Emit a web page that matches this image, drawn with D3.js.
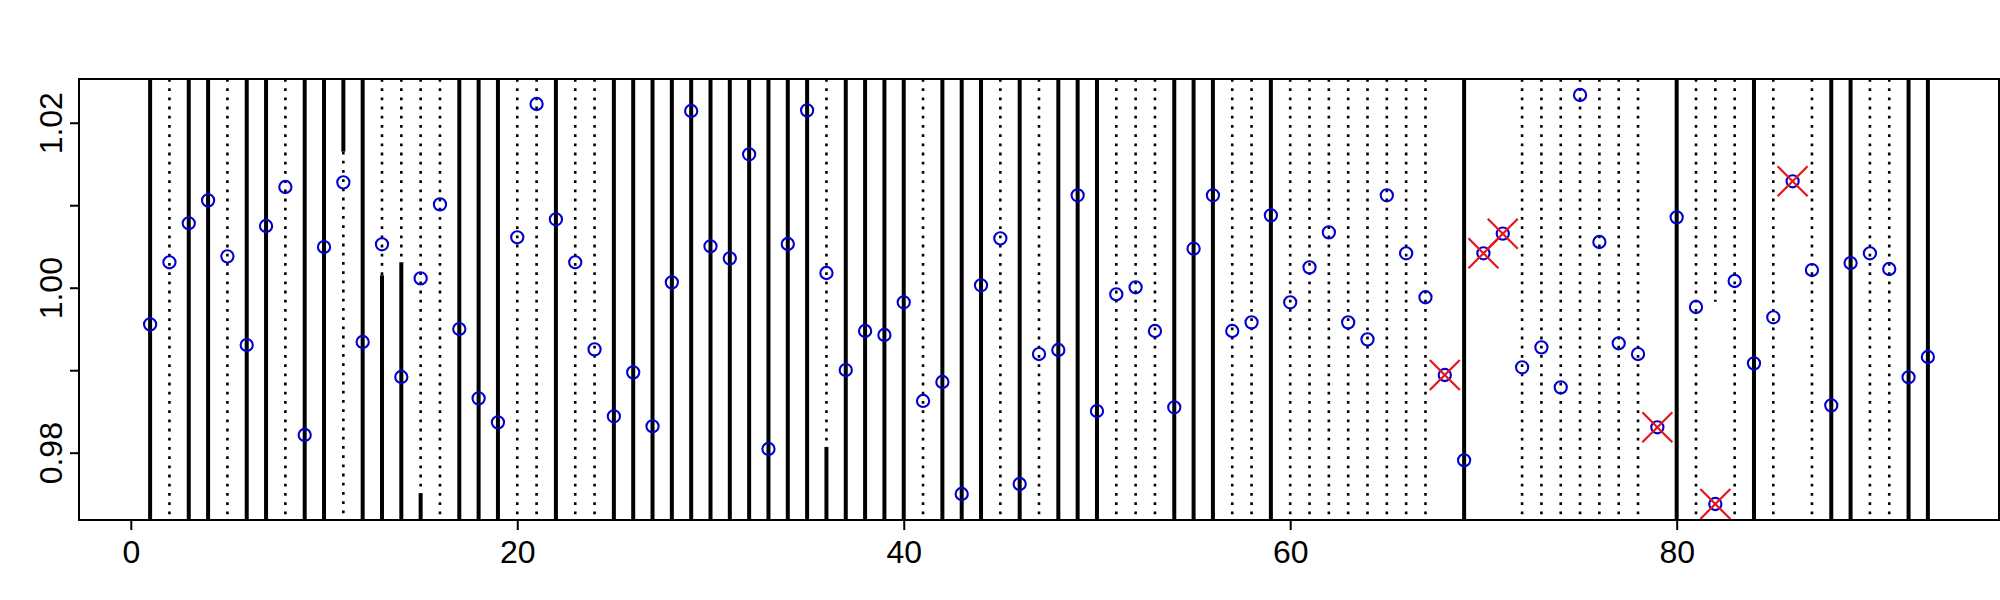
<!DOCTYPE html>
<html>
<head>
<meta charset="utf-8">
<script src="https://cdn.jsdelivr.net/npm/d3@7"></script>
<style>
  html, body { margin: 0; padding: 0; background: #fff; }
  svg { display: block; }
  text { font-family: "Liberation Sans", Arial, sans-serif; }
</style>
</head>
<body>
<svg id="chart" width="2000" height="600"></svg>
<script>
// ---- data ----
const values = [
  0.99556, 1.00308, 1.00781, 1.01059, 1.00380, 0.99305, 1.00748, 1.01221, 0.98215, 1.00493,
  1.01277, 0.99342, 1.00526, 0.98918, 1.00113, 1.01010, 0.99499, 0.98659, 0.98368, 1.00611,
  1.02227, 1.00829, 1.00308, 0.99253, 0.98441, 0.98974, 0.98320, 1.00065, 1.02142, 1.00502,
  1.00356, 1.01617, 0.98045, 1.00530, 1.02150, 1.00178, 0.99002, 0.99475, 0.99427, 0.99823,
  0.98627, 0.98857, 0.97499, 1.00029, 1.00598, 0.97621, 0.99196, 0.99245, 1.01120, 0.98505,
  0.99920, 1.00005, 0.99475, 0.98550, 1.00473, 1.01120, 0.99475, 0.99580, 1.00877, 0.99823,
  1.00247, 1.00671, 0.99580, 0.99374, 1.01120, 1.00417, 0.99884, 0.98942, 0.97908, 1.00417,
  1.00655, 0.99035, 0.99277, 0.98792, 1.02336, 1.00554, 0.99326, 0.99196, 0.98308, 1.00853,
  0.99766, 0.97378, 1.00081, 0.99083, 0.99641, 1.01290, 1.00214, 0.98574, 1.00299, 1.00417,
  1.00227, 0.98914, 0.99160
];
// line style per index (1..93): s = solid, d = dotted, n = none
const lineStyle = [
  "s","d","s","s","d","s","s","d","s","s",
  "s","s","d","d","d","d","s","s","s","d",
  "d","s","d","d","s","s","s","s","s","s",
  "s","s","s","s","s","d","s","s","s","s",
  "d","s","s","s","d","s","d","s","s","s",
  "d","d","d","s","s","s","d","d","s","d",
  "d","d","d","d","d","d","d","n","s","n",
  "n","d","d","d","d","d","d","d","n","s",
  "d","d","d","s","d","n","d","s","s","d",
  "d","s","s"
];
// lines that change style part way
const splitX      = [11, 13, 14, 15, 36, 82];
const splitAt     = [1.0165, 1.0015, 1.0031, 0.9751, 0.9807, 0.9983];
const splitTop    = ["s", "d", "d", "d", "d", "d"];
const splitBottom = ["d", "s", "s", "s", "s", "n"];
// flagged points (red crosses)
const flagged = [68, 70, 71, 79, 82, 86];
const xTicks = [0, 20, 40, 60, 80];
const yTicks = [0.98, 0.99, 1.00, 1.01, 1.02];
const yTickLabels = ["0.98", "", "1.00", "", "1.02"];

// ---- layout ----
const svg = d3.select("#chart");
const L = 79, R = 1999, T = 79, B = 520;
const x = d3.scaleLinear().domain([-2.68, 96.68]).range([L, R]);
const y = d3.scaleLinear().domain([0.97184, 1.0253]).range([B, T]);

const styleAttr = {
  s: { w: 4, dash: null },
  d: { w: 2.6, dash: "2.8,6.4" }
};

// build segments
const segs = [];
values.forEach((v, i) => {
  const xi = i + 1;
  const k = splitX.indexOf(xi);
  if (k >= 0) {
    segs.push({ x: xi, y0: y.domain()[1], y1: splitAt[k], st: splitTop[k] });
    segs.push({ x: xi, y0: splitAt[k], y1: y.domain()[0], st: splitBottom[k] });
  } else {
    segs.push({ x: xi, y0: y.domain()[1], y1: y.domain()[0], st: lineStyle[i] });
  }
});

const gLines = svg.append("g");
gLines.selectAll("line")
  .data(segs.filter(s => s.st !== "n"))
  .join("line")
  .attr("x1", d => x(d.x)).attr("x2", d => x(d.x))
  .attr("y1", d => y(d.y0)).attr("y2", d => y(d.y1))
  .attr("stroke", "#000")
  .attr("stroke-width", d => styleAttr[d.st].w)
  .attr("stroke-dasharray", d => styleAttr[d.st].dash)
  .attr("stroke-linecap", "butt");

// points
svg.append("g").selectAll("circle")
  .data(values)
  .join("circle")
  .attr("cx", (d, i) => x(i + 1))
  .attr("cy", d => y(d))
  .attr("r", 6.1)
  .attr("fill", "none")
  .attr("stroke", "#0000d0")
  .attr("stroke-width", 2.1);

// red crosses
const cs = 15;
const gx = svg.append("g");
flagged.forEach(xi => {
  const cx = x(xi), cy = y(values[xi - 1]);
  gx.append("line").attr("x1", cx - cs).attr("y1", cy - cs).attr("x2", cx + cs).attr("y2", cy + cs)
    .attr("stroke", "#e8141c").attr("stroke-width", 2.2);
  gx.append("line").attr("x1", cx - cs).attr("y1", cy + cs).attr("x2", cx + cs).attr("y2", cy - cs)
    .attr("stroke", "#e8141c").attr("stroke-width", 2.2);
});

// box
svg.append("rect")
  .attr("x", L).attr("y", T).attr("width", R - L).attr("height", B - T)
  .attr("fill", "none").attr("stroke", "#000").attr("stroke-width", 2);

// x axis
const xAxis = d3.axisBottom(x).tickValues(xTicks).tickSize(10).tickPadding(10).tickFormat(d3.format("d"));
const gxa = svg.append("g").attr("transform", `translate(0,${B})`).call(xAxis);
gxa.select(".domain").remove();
gxa.selectAll(".tick line").attr("stroke-width", 2);
gxa.selectAll(".tick text").attr("font-size", 32).attr("font-family", "Liberation Sans, Arial, sans-serif")
  .attr("fill", "#000").attr("dy", null).attr("y", 43);

// y axis
const yAxis = d3.axisLeft(y).tickValues(yTicks).tickSize(9).tickFormat((d, i) => yTickLabels[i]);
const gya = svg.append("g").attr("transform", `translate(${L},0)`).call(yAxis);
gya.select(".domain").remove();
gya.selectAll(".tick line").attr("stroke-width", 2);
gya.selectAll(".tick text")
  .attr("font-size", 32).attr("font-family", "Liberation Sans, Arial, sans-serif")
  .attr("fill", "#000")
  .attr("x", null).attr("dy", null)
  .attr("text-anchor", "middle")
  .attr("transform", `translate(${62 - L},0) rotate(-90)`);
</script>
</body>
</html>
